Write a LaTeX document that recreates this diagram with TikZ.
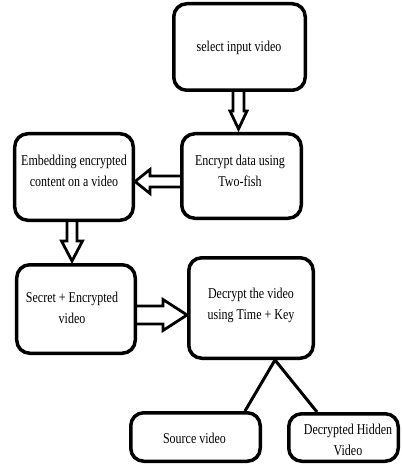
\documentclass[tikz,border=0pt]{standalone}
\usepackage{fontspec}
\setmainfont{Liberation Serif}[FakeStretch=0.8]
\usetikzlibrary{calc}
\tikzset{
  box/.style={draw, line width=3.5bp, rounded corners=13bp, inner sep=0pt},
  lbl/.style={align=center, font=\fontsize{15bp}{21bp}\selectfont, inner sep=0pt},
  barrow/.style={draw, line width=2.8bp, line join=miter},
  link/.style={line width=3bp},
}
% vertical (downward) hollow block arrow: start, tip, half shaft, half head, head length
\newcommand\varrowdraw[5]{\draw[barrow] let \p1=(#1), \p2=(#2) in
  (\x1-#3,\y1) -- (\x1-#3,\y2+#5) -- (\x1-#4,\y2+#5) -- (\x1,\y2) --
  (\x1+#4,\y2+#5) -- (\x1+#3,\y2+#5) -- (\x1+#3,\y1);}
% leftward hollow block arrow
\newcommand\larrowdraw[5]{\draw[barrow] let \p1=(#1), \p2=(#2) in
  (\x1,\y1+#3) -- (\x2+#5,\y1+#3) -- (\x2+#5,\y1+#4) -- (\x2,\y1) --
  (\x2+#5,\y1-#4) -- (\x2+#5,\y1-#3) -- (\x1,\y1-#3);}
% rightward hollow block arrow
\newcommand\rarrowdraw[5]{\draw[barrow] let \p1=(#1), \p2=(#2) in
  (\x1,\y1+#3) -- (\x2-#5,\y1+#3) -- (\x2-#5,\y1+#4) -- (\x2,\y1) --
  (\x2-#5,\y1-#4) -- (\x2-#5,\y1-#3) -- (\x1,\y1-#3);}
\begin{document}
\begin{tikzpicture}[x=1bp,y=-1bp]
\useasboundingbox (0,0) rectangle (401,465);
% boxes
\node[box, minimum width=131.5bp, minimum height=86.5bp] (b1) at (239.5,47) {};
\node[box, minimum width=119.5bp, minimum height=84.5bp] (b2) at (241.5,176) {};
\node[box, minimum width=118.5bp, minimum height=86.5bp] (b3) at (74,177) {};
\node[box, minimum width=118.5bp, minimum height=88.5bp] (b4) at (76,309) {};
\node[box, minimum width=124.5bp, minimum height=100.5bp] (b5) at (251,308) {};
\node[box, minimum width=129.5bp, minimum height=48.5bp] (b6) at (195.5,437) {};
\node[box, minimum width=109.5bp, minimum height=47.5bp] (b7) at (343.5,437.5) {};
% texts
\node[lbl] (t1) at ($(b1.center)+(-0.5,1)$) {select input video};
\node[lbl] (t2) at ($(b2.center)+(-1.5,-5)$) {Encrypt data using\\Two-fish};
\node[lbl] (t3) at ($(b3.center)+(0,-6)$) {Embedding encrypted\\content on a video};
\node[lbl] (t4) at ($(b4.center)+(-4,-1)$) {Secret + Encrypted\\video};
\node[lbl] (t5) at ($(b5.center)+(0,-3)$) {Decrypt the video\\using Time + Key};
\node[lbl] (t6) at ($(b6.center)+(-1,1)$) {Source video};
\node[lbl] (t7) at ($(b7.center)+(4.5,2.5)$) {Decrypted Hidden\\Video};
% block arrows
\coordinate (a1s) at ($(b1.south)+(-1,0)$);
\coordinate (a1t) at ($(b2.north)+(-3,-3)$);
\varrowdraw{a1s}{a1t}{5.5bp}{8.5bp}{18bp}
\coordinate (a2s) at ($(b2.west)+(0,5.5)$);
\coordinate (a2t) at (b3.east);
\larrowdraw{a2s}{a2t}{5.5bp}{12bp}{15bp}
\coordinate (a3s) at ($(b3.south)+(-2,0)$);
\coordinate (a3t) at ($(b4.north)+(0,-2)$);
\varrowdraw{a3s}{a3t}{5bp}{10.5bp}{20bp}
\coordinate (a4s) at ($(b4.east)+(0,6)$);
\coordinate (a4t) at (b5.west);
\rarrowdraw{a4s}{a4t}{9bp}{15.5bp}{24bp}
% links
\coordinate (apex) at ($(b5.south)+(24,0)$);
\draw[link] (apex) -- ($(b6.north)+(49.5,0)$);
\draw[link] (apex) -- ($(b7.north)+(-26.5,0)$);
\end{tikzpicture}
\end{document}
